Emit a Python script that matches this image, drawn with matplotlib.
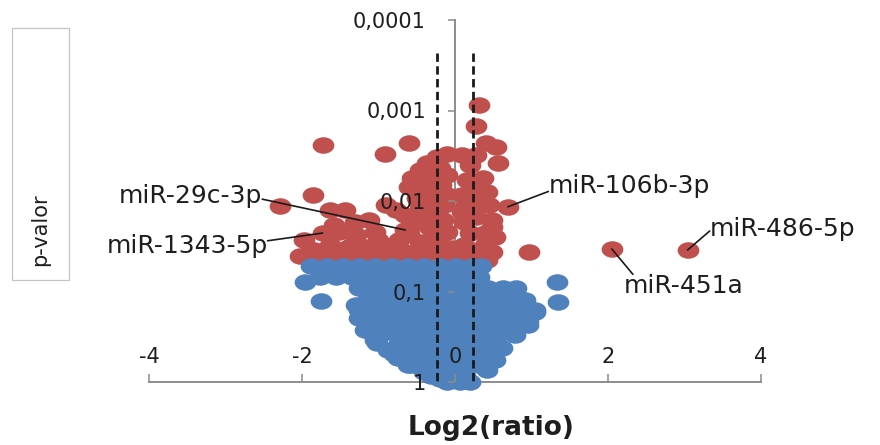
import matplotlib
matplotlib.use("Agg")
import matplotlib.pyplot as plt
import numpy as np
from matplotlib.path import Path
from matplotlib.patches import Rectangle
from matplotlib.ticker import FixedLocator, FixedFormatter, NullLocator

plt.rcParams["font.family"] = ["DejaVu Sans"]

# ---- data -------------------------------------------------------------
# miRNAs with p < 0.05 (significant)
sig_log2 = [0.32, 0.28, 0.41, 0.54, 0.56, -1.73, -0.60, -0.91,
            -0.11, -0.24, -0.37, -0.46, -0.56, -0.60, -0.20, -0.33,
            -0.18, -0.40, -0.27, -0.14, -0.46, -0.33, -0.16, -0.66,
            -0.53, -0.33, -0.10, -0.60, -0.73, -0.46, -0.20, -0.05,
            -0.66, -0.40, -0.14, -1.86, -1.64, -1.44, -2.29, -1.12,
            -1.31, -0.90, -0.77, -1.97, -1.51, -1.29, -1.05, -1.84,
            -1.64, -1.41, -1.18, -0.96, -0.83, -2.03, -1.77, -1.54,
            -1.28, -1.05, 0.19, 0.28, 0.36, 0.16, 0.23, 0.42,
            0.32, 0.15, 0.28, 0.48, 0.12, 0.19, 0.39, 0.52,
            0.12, 0.32, 0.48, 0.19, 0.97,
            -1.90, -1.22, -0.79, -0.86, -0.57, -0.27, -0.24, -0.40,
            -0.11, -0.29, -0.11, -0.50, -1.58, -1.35, -1.01, -0.05,
            -0.33, 0.09, 0.09, 0.45, 0.09, 0.39, 0.48, 0.09, 0.42]
sig_p = [0.00087, 0.0015, 0.0023, 0.0025, 0.0038, 0.0024, 0.0023, 0.0030,
         0.0030, 0.0033, 0.0038, 0.0045, 0.0056, 0.0070, 0.0043, 0.0056,
         0.0067, 0.0076, 0.0093, 0.0111, 0.0111, 0.0132, 0.0162, 0.0143,
         0.0171, 0.0199, 0.0220, 0.0220, 0.0270, 0.0284, 0.0306, 0.0330,
         0.0366, 0.0395, 0.0416, 0.0086, 0.0126, 0.0126, 0.0114, 0.0162,
         0.0171, 0.0111, 0.0126, 0.0270, 0.0220, 0.0238, 0.0220, 0.0348,
         0.0306, 0.0330, 0.0322, 0.0306, 0.0395, 0.0405, 0.0427, 0.0416,
         0.0427, 0.0427, 0.0040, 0.0031, 0.0056, 0.0059, 0.0076, 0.0080,
         0.0105, 0.0111, 0.0150, 0.0162, 0.0171, 0.0226, 0.0226, 0.0250,
         0.0306, 0.0348, 0.0366, 0.0416, 0.0366,
         0.0366, 0.0366, 0.0310, 0.0427, 0.0427, 0.0260, 0.0162, 0.0143,
         0.0085, 0.0066, 0.0051, 0.0093, 0.0185, 0.0306, 0.0270, 0.0427,
         0.0330, 0.0031, 0.0086, 0.0111, 0.0132, 0.0310, 0.0195, 0.0427, 0.0450]

# highlighted miRNAs (also significant)
hl_names = ["miR-29c-3p", "miR-1343-5p", "miR-106b-3p", "miR-451a", "miR-486-5p"]
hl_log2 = [-0.65, -1.73, 0.69, 2.05, 3.04]
hl_p = [0.0209, 0.0226, 0.0116, 0.0339, 0.0348]

# miRNAs with p >= 0.05
ns_log2 = [-1.88, -1.67, -1.46, -1.25, -1.04, -0.83, -0.62, -0.41, -0.20, 0.01, 0.22, 0.34,
           -1.77, -1.56, -1.35, -1.14, -0.94, -0.73, -0.52, -0.31, -0.10, 0.11, 0.32,
           -1.96, -1.25, -1.04, -0.83, -0.62, -0.41, -0.20, 0.01, 0.22, 0.43, 0.63, 0.80, 1.33,
           -1.75, -1.14, -0.94, -0.73, -0.52, -0.31, -0.10, 0.11, 0.32, 0.53, 0.74, 0.84, 1.34,
           -1.25, -1.04, -0.83, -0.62, -0.41, -0.20, 0.01, 0.22, 0.43, 0.63, 0.84, 1.05,
           -1.14, -0.94, -0.73, -0.52, -0.31, -0.10, 0.11, 0.32, 0.53, 0.74, 0.95,
           -1.10, -0.88, -0.67, -0.46, -0.25, -0.04, 0.17, 0.38, 0.58, 0.70,
           -1.02, -0.73, -0.52, -0.31, -0.10, 0.11, 0.32, 0.53,
           -0.80, -0.62, -0.41, -0.20, 0.01, 0.22, 0.43,
           -0.62, -0.46, -0.31, -0.10, 0.11, 0.32,
           -0.31, -0.15, 0.01, 0.13,
           -0.10, 0.06,
           -1.29, -1.25, -1.18, -1.05, -0.88, -0.75, -0.57, -0.40, -0.20,
           0.42, 0.52, 0.61, 0.78, 0.95, 1.04, 0.91, 0.78, 0.19]
ns_p = [0.052, 0.052, 0.052, 0.052, 0.052, 0.052, 0.052, 0.052, 0.052, 0.052, 0.052, 0.052,
        0.069, 0.069, 0.069, 0.069, 0.069, 0.069, 0.069, 0.069, 0.069, 0.069, 0.069,
        0.079, 0.091, 0.091, 0.091, 0.091, 0.091, 0.091, 0.091, 0.091, 0.091, 0.091, 0.091, 0.079,
        0.128, 0.121, 0.121, 0.121, 0.121, 0.121, 0.121, 0.121, 0.121, 0.121, 0.121, 0.121, 0.131,
        0.160, 0.160, 0.160, 0.160, 0.160, 0.160, 0.160, 0.160, 0.160, 0.160, 0.160, 0.160,
        0.212, 0.212, 0.212, 0.212, 0.212, 0.212, 0.212, 0.212, 0.212, 0.212, 0.212,
        0.280, 0.280, 0.280, 0.280, 0.280, 0.280, 0.280, 0.280, 0.280, 0.280,
        0.371, 0.371, 0.371, 0.371, 0.371, 0.371, 0.371, 0.371,
        0.49, 0.49, 0.49, 0.49, 0.49, 0.49, 0.49,
        0.65, 0.65, 0.65, 0.65, 0.65, 0.65,
        0.86, 0.86, 0.86, 0.86,
        1.0, 1.0,
        0.141, 0.196, 0.266, 0.34, 0.44, 0.54, 0.65, 0.78, 0.93,
        0.74, 0.57, 0.42, 0.30, 0.234, 0.168, 0.124, 0.096, 1.0]

fold_thresholds = [-0.24, 0.23]
threshold_top_p = 0.00023

x_ticks = [-4, -2, 0, 2, 4]
x_tick_labels = ["-4", "-2", "0", "2", "4"]
y_ticks = [0.0001, 0.001, 0.01, 0.1, 1]
y_tick_labels = ["0,0001", "0,001", "0,01", "0,1", "1"]

# ---- styling ----------------------------------------------------------
RED = "#C0504D"
BLUE = "#4F81BD"
AXIS_GREY = "#8c8c8c"
TEXT = "#1e1e1e"

W, H = 880, 445
fig = plt.figure(figsize=(W / 100, H / 100), dpi=100)
ax = fig.add_axes([149 / W, 1 - 382 / H, 612 / W, 362 / H])

# slightly flattened circle marker
circ = Path.unit_circle()
ellipse = Path(circ.vertices * np.array([1.0, 0.76]), circ.codes)
msize = 245

ax.scatter(sig_log2 + hl_log2, sig_p + hl_p, s=msize, marker=ellipse,
           c=RED, linewidths=0, zorder=1.0, clip_on=False)
ax.scatter(ns_log2, ns_p, s=msize, marker=ellipse,
           c=BLUE, linewidths=0, zorder=1.1, clip_on=False)

for t in fold_thresholds:
    ax.plot([t, t], [threshold_top_p, 1.0], color="#1a1a1a", lw=2.0,
            ls=(0, (3, 1.6)), zorder=2.2, clip_on=False)

ax.set_xlim(-4, 4)
ax.set_yscale("log")
ax.set_ylim(1, 0.0001)

for side in ("top", "right"):
    ax.spines[side].set_visible(False)
ax.spines["left"].set_position(("data", 0))
for side in ("left", "bottom"):
    ax.spines[side].set_color(AXIS_GREY)
    ax.spines[side].set_linewidth(1.4)
    ax.spines[side].set_zorder(0.5)

ax.xaxis.set_major_locator(FixedLocator(x_ticks))
ax.xaxis.set_major_formatter(FixedFormatter(x_tick_labels))
ax.yaxis.set_major_locator(FixedLocator(y_ticks))
ax.yaxis.set_major_formatter(FixedFormatter(y_tick_labels))
ax.xaxis.set_minor_locator(NullLocator())
ax.yaxis.set_minor_locator(NullLocator())

ax.tick_params(axis="y", direction="out", length=5, width=1.1, color=AXIS_GREY,
               pad=16, labelsize=15, labelcolor=TEXT)
ax.tick_params(axis="x", direction="in", length=6, width=1.1, color=AXIS_GREY,
               pad=-25, labelsize=15, labelcolor=TEXT)
ax.patch.set_visible(False)

# labelled miRNAs: text anchor (log2, p), alignment, where the leader leaves the text
label_layout = {
    "miR-29c-3p": ((-2.52, 0.0104), "right", (1.0, 0.35)),
    "miR-1343-5p": ((-2.45, 0.0376), "right", (1.0, 0.72)),
    "miR-106b-3p": ((1.22, 0.0081), "left", (0.0, 0.26)),
    "miR-451a": ((2.20, 0.1047), "left", (0.08, 1.0)),
    "miR-486-5p": ((3.33, 0.0244), "left", (0.0, 0.42)),
}
for name, lx, lp in zip(hl_names, hl_log2, hl_p):
    pos, ha, rel = label_layout[name]
    ax.annotate(name, xy=(lx, lp), xytext=pos, textcoords="data",
                ha=ha, va="baseline", fontsize=18, color=TEXT,
                annotation_clip=False, zorder=4,
                arrowprops=dict(arrowstyle="-", color="#1a1a1a", lw=1.2,
                                patchA=None, shrinkA=0, shrinkB=0, relpos=rel))

# y-axis title in its framed box
fig.add_artist(Rectangle((12 / W, 1 - 280 / H), 57 / W, 252 / H,
                         transform=fig.transFigure, fill=False,
                         edgecolor="#c4c4c4", lw=0.9))
fig.text(40 / W, 1 - 230 / H, "p-valor", rotation=90, ha="center", va="center",
         fontsize=15, color=TEXT)
fig.text(491 / W, 1 - 428 / H, "Log2(ratio)", ha="center", va="center",
         fontsize=19, fontweight="bold", color=TEXT)

fig.savefig("out.png", dpi=100, facecolor="white")
